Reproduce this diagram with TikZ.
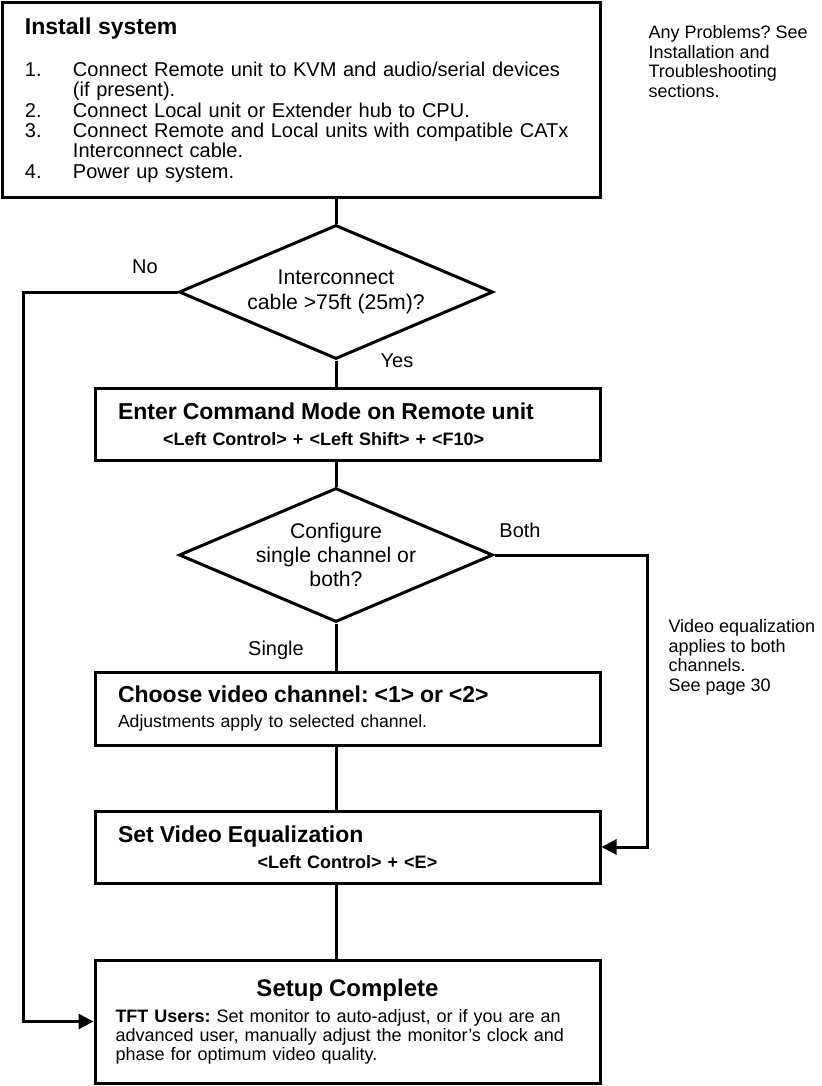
\documentclass[tikz,border=0pt]{standalone}
\usepackage{fontspec}
\setmainfont{Liberation Sans}
\usetikzlibrary{shapes.geometric,arrows.meta}

\begin{document}
\frenchspacing
\begin{tikzpicture}[x=0.5pt,y=-0.5pt,line width=1.5pt,
  box/.style={draw,rectangle,inner sep=0pt,minimum width=252.5pt,text width=229.5pt,align=left},
  decide/.style={draw,diamond,aspect=2.34,inner sep=-1pt,minimum width=157pt,minimum height=67pt,align=center,font=\fontsize{10.6}{12.2}\selectfont},
  lbl/.style={inner sep=0pt,font=\fontsize{10}{12}\selectfont},
  note/.style={anchor=north west,inner sep=0pt,align=left,font=\fontsize{9}{9.8}\selectfont},
  flow/.style={-{Triangle[length=7.5pt,width=7.5pt]}}]
\useasboundingbox (0,0) rectangle (821,1086);

\node[box,minimum width=299pt,minimum height=97pt,text width=276pt,font=\fontsize{10}{10.15}\selectfont] (install) at (301,100)
  {{\fontsize{11.5}{13}\bfseries Install system}\\[10.85pt]
   \makebox[24pt][l]{1.}Connect Remote unit to KVM and audio/serial devices\\
   \hspace*{24pt}(if present).\\
   \makebox[24pt][l]{2.}Connect Local unit or Extender hub to CPU.\\
   \makebox[24pt][l]{3.}Connect Remote and Local units with compatible CATx\\
   \hspace*{24pt}Interconnect cable.\\
   \makebox[24pt][l]{4.}Power up system.};
\node[note] (problems) at (647,24) {Any Problems? See\\Installation and\\Troubleshooting\\sections.};

\node[decide] (d1) at (336,292) {Interconnect\\cable >75ft (25m)?};
\node[box,minimum height=36pt,font=\fontsize{9}{13}\bfseries] (enter) at (347.5,424)
  {{\fontsize{11.5}{13}\bfseries Enter Command Mode on Remote unit}\\
   \hspace*{22.5pt}<Left Control> + <Left Shift> + <F10>};
\node[decide] (d2) at (336,555) {Configure\\single channel or\\both?};
\node[box,minimum height=36.5pt,font=\fontsize{8.8}{12.5}\selectfont] (choose) at (347.5,708.5)
  {{\fontsize{11.5}{13}\bfseries Choose video channel: <1> or <2>}\\
   Adjustments apply to selected channel.};
\node[box,minimum height=36pt,font=\fontsize{9}{13}\bfseries] (setvid) at (347.5,847)
  {{\fontsize{11.5}{13}\bfseries Set Video Equalization}\\
   \makebox[229.5pt]{<Left Control> + <E>}};
\node[box,minimum height=61.5pt,text width=232pt,font=\fontsize{9}{9.6}\selectfont] (setup) at (347.5,1021.5)
  {\makebox[232pt]{\fontsize{12}{14}\bfseries Setup Complete}\\[3.4pt]
   \textbf{TFT Users:} Set monitor to auto-adjust, or if you are an\\
   advanced user, manually adjust the monitor's clock and\\
   phase for optimum video quality.};
\node[note] (vidnote) at (667,618) {Video equalization\\applies to both\\channels.\\See page 30};

\node[lbl] (no) at (145,267) {No};
\node[lbl] (yes) at (397,361) {Yes};
\node[lbl] (both) at (520,530) {Both};
\node[lbl] (single) at (276,650) {Single};

\coordinate (nobend) at (23,292);
\coordinate (bothbend) at (647,555);
\draw (install.south -| d1.north) -- (d1.north);
\draw (d1.south) -- (d1.south |- enter.north);
\draw (enter.south -| d2.north) -- (d2.north);
\draw (d2.south) -- (d2.south |- choose.north);
\draw (d2.south |- choose.south) -- (d2.south |- setvid.north);
\draw (d2.south |- setvid.south) -- (d2.south |- setup.north);
\draw[flow] (d1.west) -- (nobend) |- (setup.west);
\draw[flow] (d2.east) -- (bothbend) |- (setvid.east);
\end{tikzpicture}
\end{document}
